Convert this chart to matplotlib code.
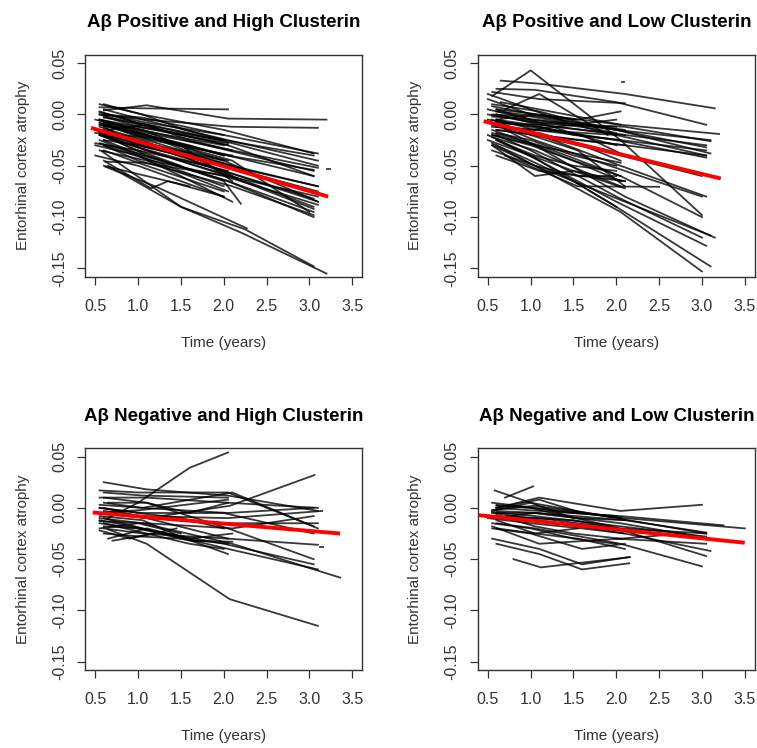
import matplotlib
matplotlib.use("Agg")
import matplotlib.pyplot as plt

plt.rcParams['font.family'] = ['Liberation Sans', 'DejaVu Sans']

titles = [
    "A\u03b2 Positive and High Clusterin",
    "A\u03b2 Positive and Low Clusterin",
    "A\u03b2 Negative and High Clusterin",
    "A\u03b2 Negative and Low Clusterin",
]

x_ticks = [0.5, 1.0, 1.5, 2.0, 2.5, 3.0, 3.5]
y_ticks = [0.05, 0.00, -0.05, -0.10, -0.15]

# Aβ positive, high clusterin: one list of times / values per subject
pos_high_t = [
    [0.55, 1.05, 2.05], [0.6, 1.1, 2.05, 3.2], [0.55, 1.1, 2.1, 3.1], [0.6, 1.05, 2.0, 3.05],
    [0.55, 1.0, 2.0, 3.05], [0.6, 1.1, 2.1, 3.1], [0.55, 1.1, 2.05, 3.05], [0.5, 1.0, 2.0, 3.1],
    [0.6, 1.1, 2.0, 3.1], [0.55, 1.05, 2.1, 3.05], [0.6, 1.05, 2.05, 3.05], [0.58, 1.5, 2.2, 3.2],
    [0.65, 1.5, 2.25, 3.05], [0.55, 1.1, 2.0, 3.1], [0.55, 1.0, 2.05, 3.05], [0.6, 1.15, 2.0, 3.1],
    [0.55, 1.1, 2.05, 3.1], [0.6, 1.05, 2.1, 3.0], [0.62, 1.2, 2.27], [0.6, 1.15, 1.35, 2.0],
    [0.6, 1.1, 2.0, 2.2], [0.55, 1.0, 1.5, 2.1], [0.5, 1.0, 1.5, 2.0], [0.6, 1.1, 1.6, 2.0],
    [0.55, 1.05, 1.5, 2.05], [0.65, 1.1, 1.6, 2.1], [0.5, 1.0, 2.0], [0.6, 1.1, 2.0],
    [0.55, 1.0, 1.55, 2.05], [0.6, 1.05, 2.0], [0.55, 1.1, 2.1], [0.62, 1.06, 2.05],
    [0.5, 1.0, 1.5], [0.6, 1.0, 1.5, 2.0], [0.55, 1.05, 1.55, 2.0], [0.6, 1.1, 2.1, 3.1],
    [0.55, 1.1, 2.0, 3.05], [0.6, 1.0, 2.1, 3.05], [0.7, 1.2, 2.0], [0.55, 1.1, 1.6, 2.05],
    [0.6, 1.05, 1.5, 2.1], [0.55, 1.1, 2.0, 3.1], [0.6, 1.05, 2.05, 3.1], [0.55, 1.0, 2.05, 3.05],
    [3.21, 3.24], [0.5, 1.0, 1.5, 2.0], [0.6, 1.1, 1.6], [0.65, 1.0, 2.0],
    [0.55, 1.05, 2.05, 3.05], [0.6, 1.1, 2.1, 3.1], [0.55, 1.0, 2.0, 3.05], [0.6, 1.05, 2.05, 3.1],
    [0.55, 1.1, 1.55, 2.05], [0.6, 1.05, 1.6, 2.1], [0.5, 1.05, 1.55, 2.0], [0.6, 1.0, 1.5, 2.05],
    [0.55, 1.1, 2.05, 3.05], [0.65, 1.15, 2.1],
]
pos_high_y = [
    [0.007, 0.006, 0.005], [0.004, 0.009, -0.004, -0.005], [0.0, -0.005, -0.012, -0.013], [0.01, 0.0, -0.015, -0.038],
    [-0.005, -0.012, -0.025, -0.04], [-0.008, -0.018, -0.035, -0.052], [-0.01, -0.02, -0.04, -0.06], [-0.015, -0.03, -0.05, -0.075],
    [-0.02, -0.03, -0.055, -0.085], [-0.012, -0.025, -0.06, -0.09], [-0.025, -0.04, -0.065, -0.1], [-0.036, -0.09, -0.115, -0.155],
    [-0.05, -0.09, -0.112, -0.148], [-0.005, -0.02, -0.045, -0.085], [0.0, -0.01, -0.03, -0.06], [-0.03, -0.045, -0.06, -0.088],
    [-0.018, -0.035, -0.06, -0.08], [-0.01, -0.02, -0.045, -0.095], [-0.051, -0.07, -0.111], [-0.045, -0.072, -0.065, -0.08],
    [-0.02, -0.04, -0.065, -0.087], [-0.025, -0.04, -0.06, -0.085], [-0.03, -0.04, -0.055, -0.07], [-0.01, -0.02, -0.03, -0.04],
    [0.003, -0.01, -0.02, -0.03], [-0.015, -0.01, -0.025, -0.035], [-0.005, -0.015, -0.03], [-0.035, -0.05, -0.075],
    [-0.02, -0.035, -0.045, -0.055], [0.0, -0.003, -0.02], [-0.008, -0.025, -0.05], [-0.046, -0.047, -0.06],
    [-0.028, -0.035, -0.05], [-0.012, -0.03, -0.04, -0.05], [0.01, 0.0, -0.015, -0.025], [-0.003, -0.01, -0.028, -0.05],
    [-0.02, -0.035, -0.058, -0.092], [-0.03, -0.045, -0.07, -0.098], [-0.022, -0.03, -0.045], [-0.035, -0.045, -0.06, -0.075],
    [-0.007, -0.015, -0.03, -0.065], [0.002, -0.008, -0.02, -0.038], [-0.015, -0.03, -0.05, -0.07], [-0.01, -0.02, -0.04, -0.054],
    [-0.053, -0.053], [-0.04, -0.05, -0.065, -0.08], [-0.05, -0.06, -0.07], [0.0, -0.008, -0.025],
    [-0.005, -0.015, -0.035, -0.055], [-0.015, -0.028, -0.05, -0.07], [-0.02, -0.032, -0.055, -0.082], [0.005, -0.005, -0.025, -0.045],
    [-0.008, -0.02, -0.035, -0.045], [-0.025, -0.03, -0.04, -0.06], [-0.018, -0.022, -0.03, -0.04], [-0.002, -0.012, -0.02, -0.028],
    [-0.028, -0.04, -0.065, -0.095], [-0.01, -0.025, -0.04],
]

# Aβ positive, low clusterin
pos_low_t = [
    [0.65, 1.1, 2.1, 3.15], [0.6, 1.05, 2.0, 3.05], [0.55, 1.0, 2.05, 3.0], [0.7, 1.1, 1.9],
    [0.55, 1.1, 2.1], [0.6, 1.1, 2.05, 3.2], [0.55, 1.05, 2.0, 3.1], [0.6, 1.1, 2.1, 3.05],
    [0.5, 1.0, 2.0, 3.05], [0.6, 1.05, 2.05, 3.0], [0.55, 1.1, 2.05, 3.05], [0.6, 1.0, 2.0, 3.0],
    [0.55, 1.05, 2.1, 3.15], [0.6, 1.1, 2.0, 3.05], [0.5, 1.0, 2.0, 3.1], [0.55, 1.05, 2.05, 3.0],
    [0.7, 1.55, 2.5], [2.07, 2.09], [0.6, 1.05, 1.5, 2.05], [0.55, 1.05, 1.5, 2.1],
    [0.5, 1.0, 1.55, 2.0], [0.6, 1.1, 1.6, 2.1], [0.55, 1.0, 1.5, 2.0], [0.6, 1.05, 1.55, 2.05],
    [0.55, 1.1, 1.6, 2.05], [0.6, 1.0, 1.5, 2.0], [0.5, 1.0, 1.5, 2.1], [0.55, 1.05, 1.55, 2.0],
    [0.6, 1.1, 1.6, 2.05], [0.55, 1.05, 2.05], [0.6, 1.1, 2.1, 3.1], [0.55, 1.05, 2.0, 3.05],
    [0.6, 1.05, 2.1, 3.0], [0.65, 1.1, 2.05], [0.55, 1.0, 1.55, 2.1], [0.6, 1.0, 1.5, 2.0],
    [0.55, 1.05, 1.6, 2.05], [0.6, 1.1, 1.6, 2.1], [0.5, 1.0, 1.5, 2.0], [0.6, 1.05, 2.0, 3.05],
    [0.5, 1.0, 1.5], [0.6, 1.0, 1.5, 2.0], [0.55, 1.05, 2.1, 3.1], [0.6, 1.1, 2.1],
    [0.55, 1.05, 2.05, 3.05], [0.6, 1.1, 2.0, 3.1], [0.55, 1.0, 1.5, 2.05], [0.6, 1.05, 1.55, 2.1],
    [0.5, 1.05, 1.6, 2.0], [0.6, 1.0, 1.5, 2.05], [0.55, 1.1, 2.05, 3.0], [0.6, 1.05, 1.5, 2.0],
    [0.55, 1.0, 1.55, 2.1], [0.6, 1.1, 2.1, 3.05],
]
pos_low_y = [
    [0.033, 0.03, 0.02, 0.006], [0.025, 0.024, 0.012, -0.01], [0.018, 0.043, -0.025, -0.098], [0.005, 0.02, -0.02],
    [0.022, 0.015, 0.011], [0.005, 0.0, -0.01, -0.019], [-0.002, -0.005, -0.015, -0.025], [-0.008, -0.01, -0.02, -0.03],
    [-0.005, -0.012, -0.025, -0.042], [-0.015, -0.02, -0.04, -0.06], [-0.01, -0.02, -0.05, -0.08], [-0.02, -0.035, -0.08, -0.12],
    [-0.015, -0.03, -0.08, -0.12], [-0.025, -0.045, -0.085, -0.128], [-0.02, -0.04, -0.09, -0.148], [-0.028, -0.05, -0.095, -0.153],
    [-0.04, -0.07, -0.0705], [0.032, 0.032], [-0.01, -0.03, -0.045, -0.065], [-0.03, -0.06, -0.055, -0.072],
    [0.005, -0.005, -0.02, -0.03], [0.0, -0.01, -0.015, -0.02], [-0.01, -0.015, -0.01, -0.005], [-0.005, 0.0, -0.005, 0.003],
    [0.01, 0.003, -0.008, -0.015], [-0.018, -0.025, -0.04, -0.05], [-0.025, -0.04, -0.055, -0.065], [-0.035, -0.05, -0.06, -0.06],
    [-0.012, -0.018, -0.03, -0.045], [-0.02, -0.03, -0.047], [0.0, -0.008, -0.012, -0.026], [0.008, 0.0, -0.015, -0.032],
    [-0.01, -0.025, -0.055, -0.08], [0.012, 0.005, -0.01], [-0.005, -0.02, -0.035, -0.07], [-0.03, -0.045, -0.065, -0.09],
    [-0.022, -0.035, -0.055, -0.07], [-0.008, -0.012, -0.02, -0.04], [0.02, 0.005, -0.01, -0.02], [-0.005, -0.015, -0.02, -0.04],
    [0.015, 0.0, -0.005], [0.005, -0.005, -0.01, -0.012], [-0.03, -0.05, -0.085, -0.118], [-0.04, -0.055, -0.065],
    [-0.012, -0.015, -0.025, -0.035], [0.003, -0.002, -0.015, -0.038], [-0.02, -0.03, -0.045, -0.06], [-0.015, -0.02, -0.025, -0.03],
    [0.0, -0.008, -0.012, -0.018], [-0.005, -0.01, -0.02, -0.025], [-0.018, -0.03, -0.06, -0.1], [-0.025, -0.04, -0.05, -0.055],
    [0.0, -0.002, -0.01, -0.015], [-0.01, -0.02, -0.03, -0.04],
]

# Aβ negative, high clusterin
neg_high_t = [
    [0.65, 1.0, 1.6, 2.05], [0.65, 1.1, 2.07, 3.1], [0.6, 1.1, 2.07, 3.06], [0.55, 1.05, 2.1, 3.36],
    [0.6, 1.1, 2.05, 3.1], [0.55, 1.0, 2.05, 3.05], [0.6, 1.05, 2.05], [0.55, 1.1, 2.05, 3.1],
    [0.6, 1.05, 2.1, 3.1], [0.55, 1.05, 2.0, 3.05], [0.6, 1.1, 2.05, 3.1], [0.55, 1.0, 2.0, 3.05],
    [0.6, 1.05, 2.05, 3.1], [0.55, 1.05, 1.55, 2.05], [0.6, 1.1, 1.6, 2.0], [0.55, 1.0, 1.5],
    [0.6, 1.1, 1.6, 2.05], [0.55, 1.05, 1.55, 2.05], [0.65, 1.1, 1.6, 2.1], [0.7, 1.2],
    [0.6, 1.0, 1.6, 2.1], [0.55, 1.05, 2.05, 3.05], [0.6, 1.05, 2.05, 3.15], [0.55, 1.1, 2.1, 3.05],
    [0.6, 1.05, 2.05], [3.13, 3.16], [0.55, 1.0, 1.5, 2.0], [0.6, 1.05, 1.5, 2.05],
    [0.65, 1.1, 2.05, 3.05], [0.55, 1.05, 1.55], [0.6, 1.1, 2.0, 3.1], [0.55, 0.9, 1.45],
]
neg_high_y = [
    [-0.01, 0.005, 0.039, 0.054], [-0.021, -0.035, -0.089, -0.115], [-0.005, -0.01, 0.002, 0.032], [-0.01, -0.015, -0.035, -0.068],
    [0.025, 0.018, 0.012, -0.003], [0.017, 0.015, 0.015, -0.018], [0.015, 0.012, 0.01], [0.01, 0.01, 0.005, 0.0],
    [0.005, 0.0, 0.015, -0.02], [0.0, -0.005, -0.005, -0.025], [-0.005, -0.01, -0.03, -0.036], [-0.015, -0.02, -0.035, -0.055],
    [-0.01, -0.02, -0.04, -0.06], [-0.012, -0.02, -0.03, -0.045], [-0.015, -0.025, -0.035, -0.04], [-0.02, -0.015, -0.025],
    [0.01, 0.005, -0.005, 0.005], [-0.005, -0.002, 0.003, 0.008], [-0.03, -0.02, -0.03, -0.025], [-0.032, -0.025],
    [-0.018, -0.02, -0.032, -0.033], [0.003, 0.0, -0.005, 0.0], [-0.003, -0.008, -0.01, -0.003], [-0.013, -0.015, -0.02, -0.008],
    [-0.02, -0.025, -0.03], [-0.038, -0.038], [0.0, -0.005, -0.01, -0.02], [-0.025, -0.028, -0.03, -0.035],
    [0.005, 0.005, -0.02, -0.05], [-0.008, -0.012, -0.03], [0.0, -0.01, -0.015, -0.015], [-0.022, -0.03, -0.02],
]

# Aβ negative, low clusterin
neg_low_t = [
    [0.7, 1.03], [0.58, 1.0, 1.5], [0.6, 1.1, 2.05, 3.0], [0.55, 1.05, 2.1, 3.5],
    [0.6, 1.1, 2.05, 3.25], [0.55, 1.0, 2.0, 3.05], [0.6, 1.05, 2.05, 3.1], [0.55, 1.1, 2.0, 3.05],
    [0.6, 1.05, 2.05, 3.0], [0.55, 1.1, 1.6, 2.15], [0.8, 1.12, 2.16], [0.6, 1.1, 1.6, 2.15],
    [0.55, 1.0, 1.5, 2.0], [0.6, 1.05, 1.55, 2.1], [0.55, 1.0, 1.5, 2.0], [0.6, 1.1, 1.6, 2.05],
    [0.55, 1.05, 1.55, 2.1], [0.6, 1.0, 1.5, 2.0], [0.55, 1.05, 2.05, 3.05], [0.6, 1.1, 2.1, 3.1],
    [0.55, 1.0, 1.6, 2.1], [0.6, 1.05, 1.55], [0.5, 1.0, 1.6, 2.1], [0.6, 1.0, 2.05, 3.05],
    [0.55, 1.1, 2.05, 2.8], [0.6, 1.05, 1.5, 2.05], [2.0, 3.05], [0.55, 1.05, 1.6, 2.05],
    [0.6, 1.1, 2.1, 3.05],
]
neg_low_y = [
    [0.01, 0.021], [0.017, 0.005, -0.01], [0.0, 0.01, -0.003, 0.003], [-0.002, 0.002, -0.01, -0.02],
    [0.0, -0.003, -0.008, -0.017], [-0.003, 0.005, -0.01, -0.025], [-0.005, -0.005, -0.015, -0.03], [-0.008, -0.01, -0.02, -0.047],
    [-0.015, -0.02, -0.035, -0.057], [-0.03, -0.04, -0.055, -0.048], [-0.05, -0.058, -0.048], [-0.035, -0.045, -0.06, -0.054],
    [-0.015, -0.02, -0.03, -0.035], [-0.02, -0.025, -0.03, -0.04], [-0.005, -0.01, -0.012, -0.02], [0.0, 0.008, -0.005, -0.01],
    [-0.01, -0.005, -0.01, -0.012], [0.003, 0.0, -0.005, -0.008], [-0.004, -0.008, -0.018, -0.028], [-0.01, -0.012, -0.025, -0.042],
    [-0.02, -0.025, -0.04, -0.035], [-0.012, -0.025, -0.02], [-0.01, -0.015, -0.02, -0.025], [0.002, 0.0, -0.02, -0.025],
    [-0.018, -0.035, -0.03, -0.025], [-0.007, -0.018, -0.025, -0.03], [-0.03, -0.035], [0.005, 0.0, -0.005, -0.01],
    [-0.003, -0.005, -0.012, -0.024],
]

# fitted group trends (red lines)
fit_t = [[0.45, 3.22], [0.45, 3.22], [0.47, 3.36], [0.38, 3.5]]
fit_y = [[-0.013, -0.080], [-0.0065, -0.0624], [-0.0045, -0.025], [-0.007, -0.034]]

panel_t = [pos_high_t, pos_low_t, neg_high_t, neg_low_t]
panel_y = [pos_high_y, pos_low_y, neg_high_y, neg_low_y]

fig, axes = plt.subplots(2, 2, figsize=(7.57, 7.48), dpi=100)
plt.subplots_adjust(left=0.1123, right=0.9974, top=0.9265, bottom=0.1043,
                    wspace=0.415, hspace=0.775)

ink = "#333333"
for i, ax in enumerate(axes.flat):
    for ts, ys in zip(panel_t[i], panel_y[i]):
        ax.plot(ts, ys, color="black", lw=1.3, alpha=0.78)
    ax.plot(fit_t[i], fit_y[i], color="red", lw=2.8, solid_capstyle="butt")

    ax.set_xlim(0.38, 3.62)
    ax.set_ylim(-0.158, 0.058)
    ax.set_xticks(x_ticks)
    ax.set_xticklabels([f"{v:.1f}" for v in x_ticks])
    ax.set_yticks(y_ticks)
    ax.set_yticklabels([f"{v:.2f}" for v in y_ticks])
    ax.tick_params(axis="both", direction="out", length=6, width=0.9,
                   colors=ink, labelsize=11.5)
    ax.tick_params(axis="x", pad=10)
    ax.tick_params(axis="y", pad=7, labelrotation=90)
    for lab in ax.get_yticklabels():
        lab.set_va("center")
    for sp in ax.spines.values():
        sp.set_color(ink)
        sp.set_linewidth(1.0)

    ax.set_title(titles[i], fontsize=13.5, fontweight="bold", pad=20)
    ax.set_xlabel("Time (years)", fontsize=11, color=ink, labelpad=16)
    ax.set_ylabel("Entorhinal cortex atrophy", fontsize=11, color=ink, labelpad=16)

plt.savefig("out.png", dpi=100)
